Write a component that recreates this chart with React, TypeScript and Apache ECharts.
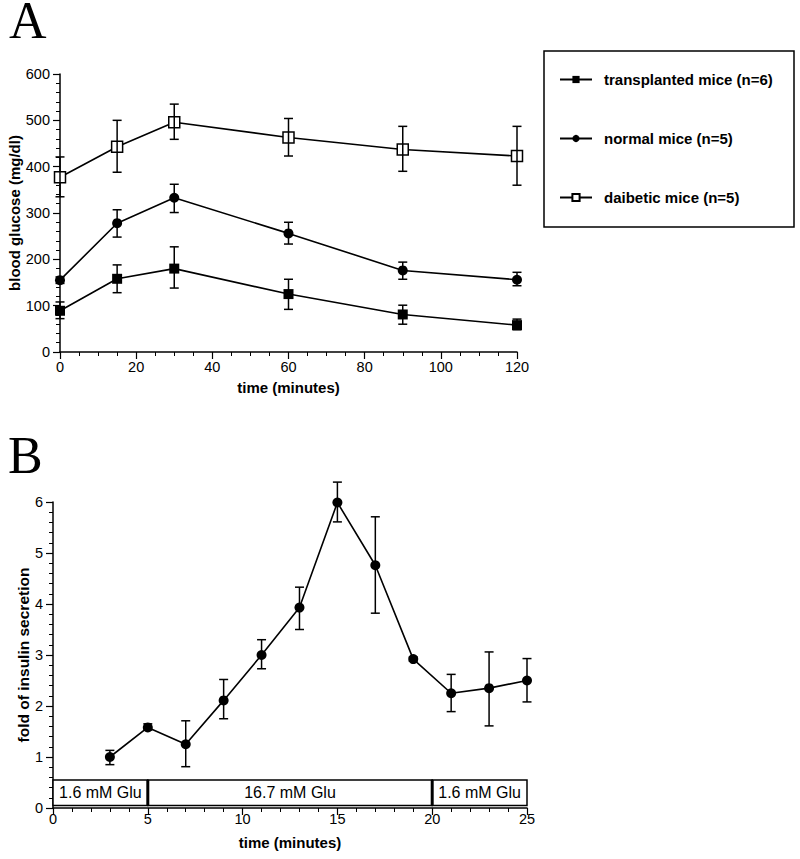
import React, { useEffect, useRef } from 'react';
import * as echarts from 'echarts';

// ---------- Panel A data ----------
const timeA = [0, 15, 30, 60, 90, 120];
const seriesNamesA = ['transplanted mice (n=6)', 'normal mice (n=5)', 'daibetic mice (n=5)'];
const transplanted = [89, 158, 180, 125, 81, 58];
const transplantedLow = [72, 128, 138, 92, 60, 48];
const transplantedHigh = [108, 188, 227, 157, 101, 71];
const normal = [155, 278, 333, 256, 176, 156];
const normalLow = [148, 248, 301, 233, 157, 143];
const normalHigh = [162, 307, 362, 280, 194, 172];
const diabetic = [377, 443, 496, 463, 437, 423];
const diabeticLow = [335, 388, 459, 423, 390, 360];
const diabeticHigh = [421, 500, 535, 504, 487, 487];

// ---------- Panel B data ----------
const timeB = [3, 5, 7, 9, 11, 13, 15, 17, 19, 21, 23, 25];
const fold = [1.0, 1.58, 1.25, 2.11, 3.0, 3.93, 5.99, 4.76, 2.92, 2.25, 2.35, 2.5];
const foldLow = [0.85, 1.53, 0.81, 1.75, 2.73, 3.5, 5.61, 3.82, 2.88, 1.89, 1.61, 2.08];
const foldHigh = [1.13, 1.65, 1.71, 2.52, 3.3, 4.33, 6.39, 5.71, 2.96, 2.62, 3.06, 2.93];

// glucose condition band
const gluStart = [0, 5, 20];
const gluEnd = [5, 20, 25];
const gluLabels = ['1.6 mM Glu', '16.7 mM Glu', '1.6 mM Glu'];
const gluBandLow = 0.05;
const gluBandHigh = 0.55;

const FONT = "'Liberation Sans', Arial, Helvetica, sans-serif";
const SERIF = "'Liberation Serif', 'Times New Roman', serif";

function axisBase(
  interval: number,
  min: number,
  max: number,
  minorSplit: number,
  name: string,
  nameGap: number,
  labelMargin: number,
  nameSize: number
) {
  return {
    type: 'value',
    min,
    max,
    interval,
    name,
    nameLocation: 'middle',
    nameGap,
    nameMoveOverlap: false,
    nameTextStyle: { color: '#000', fontSize: nameSize, fontWeight: 'bold', fontFamily: FONT },
    axisLine: { show: true, onZero: false, lineStyle: { color: '#000', width: 1.5 } },
    axisTick: { show: true, inside: false, length: 7, lineStyle: { color: '#000', width: 1.2 } },
    minorTick: { show: true, splitNumber: minorSplit, length: 4, lineStyle: { color: '#000', width: 1 } },
    splitLine: { show: false },
    minorSplitLine: { show: false },
    axisLabel: { color: '#000', fontSize: 14.5, fontFamily: FONT, margin: labelMargin },
  };
}

function errorRender(capHalf: number) {
  return (params: any, api: any) => {
    const x = api.value(0);
    const lo = api.coord([x, api.value(1)]);
    const hi = api.coord([x, api.value(2)]);
    const st = { stroke: '#000', lineWidth: 1.5 };
    return {
      type: 'group',
      children: [
        { type: 'line', shape: { x1: lo[0], y1: lo[1], x2: hi[0], y2: hi[1] }, style: st },
        { type: 'line', shape: { x1: lo[0] - capHalf, y1: lo[1], x2: lo[0] + capHalf, y2: lo[1] }, style: st },
        { type: 'line', shape: { x1: hi[0] - capHalf, y1: hi[1], x2: hi[0] + capHalf, y2: hi[1] }, style: st },
      ],
    };
  };
}

export default function App() {
  const ref = useRef<HTMLDivElement>(null);

  useEffect(() => {
    if (!ref.current) return;
    const chart = echarts.init(ref.current, null, { renderer: 'svg' });

    const errA: number[][] = [];
    timeA.forEach((t, i) => {
      errA.push([t, transplantedLow[i], transplantedHigh[i]]);
      errA.push([t, normalLow[i], normalHigh[i]]);
      errA.push([t, diabeticLow[i], diabeticHigh[i]]);
    });
    const errB = timeB.map((t, i) => [t, foldLow[i], foldHigh[i]]);
    const gluData = gluStart.map((s, i) => [s, gluEnd[i], gluBandLow, gluBandHigh]);

    const lineStyle = { color: '#000', width: 1.6 };

    const option: any = {
      animation: false,
      backgroundColor: '#fff',
      grid: [
        { left: 60, top: 74, width: 457, height: 278, outerBoundsMode: 'none', containLabel: false },
        { left: 53, top: 502, width: 474, height: 306, outerBoundsMode: 'none', containLabel: false },
      ],
      xAxis: [
        { gridIndex: 0, ...axisBase(20, 0, 120, 4, 'time (minutes)', 28, 7, 15) },
        { gridIndex: 1, ...axisBase(5, 0, 25, 5, 'time (minutes)', 27, 3, 15) },
      ],
      yAxis: [
        { gridIndex: 0, ...axisBase(100, 0, 600, 5, 'blood glucose (mg/dl)', 38, 10, 15) },
        { gridIndex: 1, ...axisBase(1, 0, 6, 5, 'fold of insulin secretion', 22, 10, 15.5) },
      ],
      legend: {
        data: seriesNamesA,
        orient: 'vertical',
        left: 554,
        top: 67,
        itemWidth: 32,
        itemHeight: 9,
        itemGap: 44,
        textStyle: { color: '#000', fontSize: 15, fontWeight: 'bold', fontFamily: FONT, padding: [0, 0, 0, 7] },
        selectedMode: false,
      },
      graphic: [
        {
          type: 'rect',
          shape: { x: 544, y: 51, width: 250, height: 176 },
          style: { fill: 'none', stroke: '#000', lineWidth: 1.5 },
          z: 0,
        },
        {
          type: 'text',
          x: 9,
          y: 0,
          style: { text: 'A', font: `52px ${SERIF}`, lineHeight: 40, fill: '#000', verticalAlign: 'top' },
        },
        {
          type: 'text',
          x: 8,
          y: 435,
          style: { text: 'B', font: `52px ${SERIF}`, lineHeight: 40, fill: '#000', verticalAlign: 'top' },
        },
      ],
      series: [
        {
          name: seriesNamesA[0],
          type: 'line',
          xAxisIndex: 0,
          yAxisIndex: 0,
          data: timeA.map((t, i) => [t, transplanted[i]]),
          symbol: 'rect',
          symbolSize: 10,
          itemStyle: { color: '#000' },
          lineStyle,
          z: 2,
        },
        {
          name: seriesNamesA[1],
          type: 'line',
          xAxisIndex: 0,
          yAxisIndex: 0,
          data: timeA.map((t, i) => [t, normal[i]]),
          symbol: 'circle',
          symbolSize: 10,
          itemStyle: { color: '#000' },
          lineStyle,
          z: 2,
        },
        {
          name: seriesNamesA[2],
          type: 'line',
          xAxisIndex: 0,
          yAxisIndex: 0,
          data: timeA.map((t, i) => [t, diabetic[i]]),
          symbol: 'rect',
          symbolSize: 11,
          itemStyle: { color: '#fff', borderColor: '#000', borderWidth: 1.5 },
          lineStyle,
          z: 2,
        },
        {
          name: 'errA',
          type: 'custom',
          xAxisIndex: 0,
          yAxisIndex: 0,
          data: errA,
          encode: { x: 0, y: [1, 2] },
          renderItem: errorRender(4.5),
          silent: true,
          clip: false,
          z: 3,
        },
        {
          name: 'fold of insulin secretion',
          type: 'line',
          xAxisIndex: 1,
          yAxisIndex: 1,
          data: timeB.map((t, i) => [t, fold[i]]),
          symbol: 'circle',
          symbolSize: 10,
          itemStyle: { color: '#000' },
          lineStyle,
          clip: false,
          z: 2,
        },
        {
          name: 'errB',
          type: 'custom',
          xAxisIndex: 1,
          yAxisIndex: 1,
          data: errB,
          encode: { x: 0, y: [1, 2] },
          renderItem: errorRender(4.5),
          silent: true,
          clip: false,
          z: 3,
        },
        {
          name: 'glucose',
          type: 'custom',
          xAxisIndex: 1,
          yAxisIndex: 1,
          data: gluData,
          encode: { x: [0, 1], y: [2, 3] },
          silent: true,
          clip: false,
          z: 4,
          renderItem: (params: any, api: any) => {
            const p0 = api.coord([api.value(0), api.value(2)]);
            const p1 = api.coord([api.value(1), api.value(3)]);
            const children: any[] = [
              {
                type: 'rect',
                shape: { x: p0[0], y: p1[1], width: p1[0] - p0[0], height: p0[1] - p1[1] },
                style: { fill: '#fff', stroke: '#000', lineWidth: 1.5 },
              },
              {
                type: 'text',
                style: {
                  text: gluLabels[params.dataIndex],
                  x: (p0[0] + p1[0]) / 2,
                  y: (p0[1] + p1[1]) / 2,
                  align: 'center',
                  verticalAlign: 'middle',
                  font: `16px ${FONT}`,
                  fill: '#000',
                },
              },
            ];
            if (params.dataIndex > 0) {
              children.push({
                type: 'line',
                shape: { x1: p0[0], y1: p0[1], x2: p0[0], y2: p1[1] },
                style: { stroke: '#000', lineWidth: 3 },
              });
            }
            return { type: 'group', children };
          },
        },
      ],
    };

    chart.setOption(option);
    return () => chart.dispose();
  }, []);

  return (
    <div
      ref={ref}
      style={{ position: 'fixed', left: 0, top: 0, width: 800, height: 859, background: '#fff' }}
    />
  );
}
